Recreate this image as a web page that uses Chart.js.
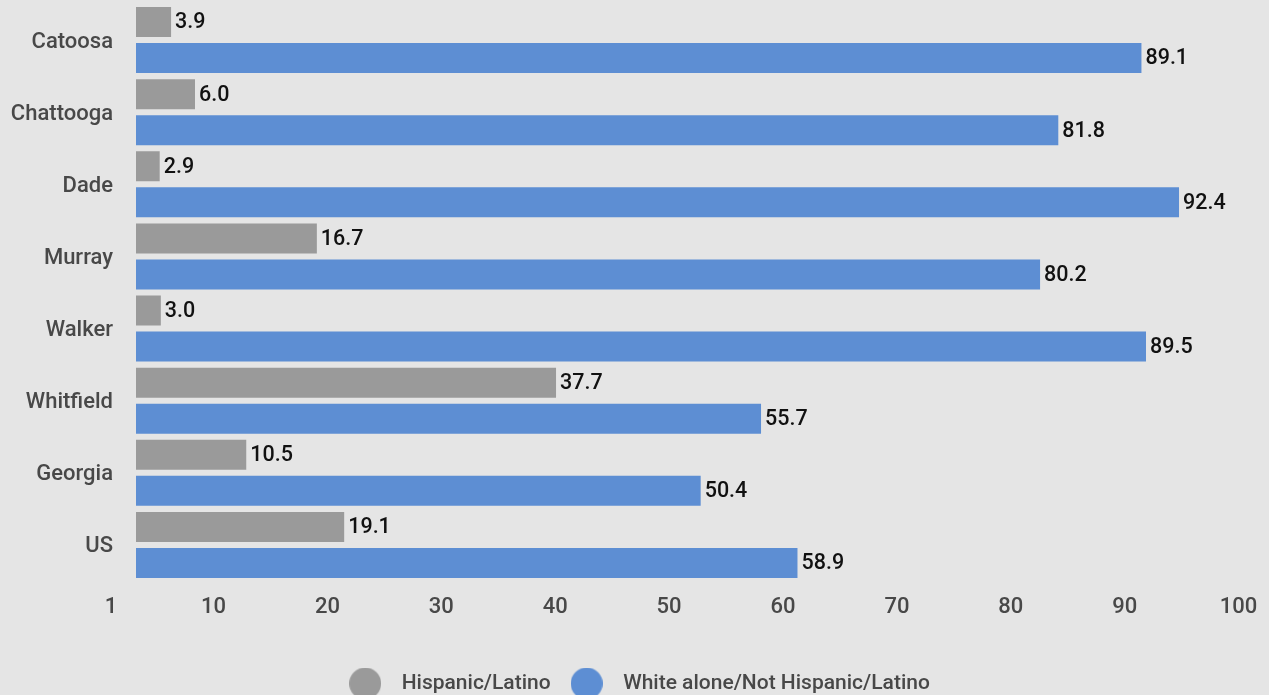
<!DOCTYPE html>
<html>
<head>
<meta charset="utf-8">
<script src="https://cdn.jsdelivr.net/npm/chart.js@4.4.1/dist/chart.umd.min.js"></script>
<style>
  html, body { margin: 0; padding: 0; background: #e5e5e5; }
  #wrap { width: 1269px; height: 695px; position: relative; }
</style>
</head>
<body>
<div id="wrap"><canvas id="grafico"></canvas></div>
<script>
// dados
const condados = ['Catoosa', 'Chattooga', 'Dade', 'Murray', 'Walker', 'Whitfield', 'Georgia', 'US'];
const hispanicos = [3.9, 6.0, 2.9, 16.7, 3.0, 37.7, 10.5, 19.1];
const brancos = [89.1, 81.8, 92.4, 80.2, 89.5, 55.7, 50.4, 58.9];
const ticksX = [1, 10, 20, 30, 40, 50, 60, 70, 80, 90, 100];
const nomesSeries = ['Hispanic/Latino', 'White alone/Not Hispanic/Latino'];

const cores = ['#9a9a9a', '#5d8ed3'];
const fonte = 'Roboto';

function bolinha(cor) {
    const c = document.createElement('canvas');
    c.width = 32;
    c.height = 32;
    const g = c.getContext('2d');
    g.fillStyle = cor;
    g.beginPath();
    g.arc(16, 16, 16, 0, Math.PI * 2);
    g.fill();
    return c;
}

const rotulosValores = {
    id: 'rotulosValores',
    afterDatasetsDraw(chart) {
        const ctx = chart.ctx;
        ctx.save();
        ctx.font = '500 21.5px ' + fonte;
        ctx.fillStyle = '#111';
        ctx.textBaseline = 'middle';
        ctx.textAlign = 'left';
        chart.data.datasets.forEach(function (ds, i) {
            chart.getDatasetMeta(i).data.forEach(function (barra, j) {
                ctx.fillText(ds.data[j].toFixed(1), barra.x + 4, barra.y + 1);
            });
        });
        ctx.restore();
    }
};

var ctx = document.getElementById('grafico').getContext('2d');

var meuGrafico = new Chart(ctx, {
    type: 'bar',
    data: {
        labels: condados,
        datasets: [{
            label: nomesSeries[0],
            data: hispanicos,
            backgroundColor: cores[0],
            borderWidth: 0
        }, {
            label: nomesSeries[1],
            data: brancos,
            backgroundColor: cores[1],
            borderWidth: 0
        }]
    },
    options: {
        indexAxis: 'y',
        responsive: true,
        maintainAspectRatio: false,
        animation: false,
        devicePixelRatio: 1,
        categoryPercentage: 1,
        barPercentage: 0.833,
        layout: {
            padding: { top: 4, bottom: -9, left: 0, right: 0 }
        },
        scales: {
            x: {
                type: 'linear',
                min: 0.82,
                max: 100.3,
                grid: { display: false, drawTicks: false },
                border: { display: false },
                afterBuildTicks: function (scale) {
                    scale.ticks = ticksX.map(function (v) { return { value: v }; });
                },
                afterFit: function (scale) {
                    scale.height = 82;
                    scale.paddingLeft = 0;
                    scale.paddingRight = 0;
                },
                ticks: {
                    labelOffset: -27,
                    padding: 13,
                    color: '#484848',
                    font: { family: fonte, size: 22, weight: '500' },
                    callback: function (v) { return v; }
                }
            },
            y: {
                grid: { display: false, drawTicks: false },
                border: { display: false },
                afterFit: function (scale) {
                    scale.width = 136;
                    scale.paddingTop = 0;
                    scale.paddingBottom = 0;
                },
                ticks: {
                    padding: 23,
                    labelOffset: 2,
                    color: '#484848',
                    font: { family: fonte, size: 22, weight: '500' }
                }
            }
        },
        plugins: {
            tooltip: { enabled: false },
            legend: {
                position: 'bottom',
                labels: {
                    usePointStyle: true,
                    pointStyleWidth: 52,
                    padding: 10,
                    color: '#484848',
                    font: { family: fonte, size: 21, weight: '500' },
                    generateLabels: function (chart) {
                        const itens = Chart.defaults.plugins.legend.labels.generateLabels(chart);
                        itens.forEach(function (it, i) { it.pointStyle = bolinha(cores[i]); });
                        return itens;
                    }
                }
            }
        }
    },
    plugins: [rotulosValores]
});
</script>
</body>
</html>
